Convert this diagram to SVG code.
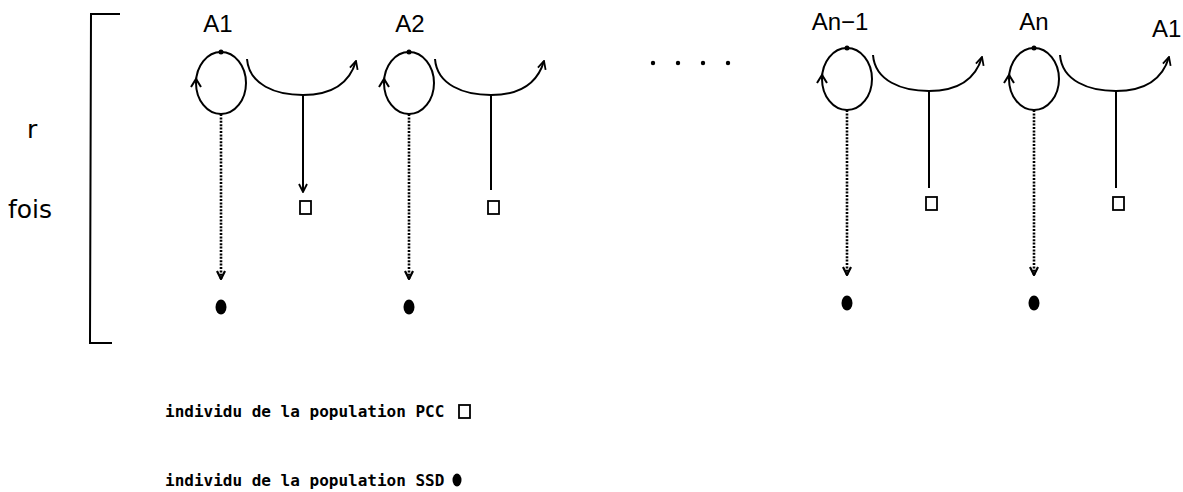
<svg xmlns="http://www.w3.org/2000/svg" width="1183" height="492" viewBox="0 0 1183 492">
  <style>
    .ln { fill: none; stroke: #000; stroke-width: 2; }
    .dot { fill: none; stroke: #000; stroke-width: 2.6; stroke-dasharray: 2 1.4; }
    .lbl { font-family: "Liberation Sans", Arial, sans-serif; font-size: 24px; fill: #000; }
    .side { font-family: "DejaVu Sans", sans-serif; font-size: 25px; fill: #000; }
    .leg { font-family: "DejaVu Sans Mono", "Liberation Mono", monospace; font-size: 16px; font-weight: bold; fill: #000; }
  </style>
  <defs>
    <marker id="v" viewBox="0 0 10 10" refX="9" refY="5" markerWidth="10" markerHeight="10" markerUnits="userSpaceOnUse" orient="auto">
      <path d="M1,1 L9,5 L1,9" fill="none" stroke="#000" stroke-width="1.8"/>
    </marker>
    <marker id="vs" viewBox="0 0 10 10" refX="9" refY="5" markerWidth="10" markerHeight="10" markerUnits="userSpaceOnUse" orient="auto">
      <path d="M1,1 L9,5 L1,9" fill="none" stroke="#000" stroke-width="2.2"/>
    </marker>
    <!-- one stage: self-loop, outgoing arc, PCC individual, dotted branch to SSD -->
    <g id="stage">
      <ellipse cx="0" cy="0" rx="25" ry="31" class="ln"/>
      <circle cx="0" cy="-31" r="2.5" fill="#000"/>
      <path d="M-30,4 L-25,-4 L-20,4" class="ln" stroke-width="1.8"/>
      <path d="M26,-24 C28,2 55,12 82,12 C108,12 128,2 135,-22" class="ln" marker-end="url(#v)"/>
      <path d="M0,31 L0,196" class="dot" marker-end="url(#vs)"/>
      <ellipse cx="0" cy="224" rx="5.5" ry="7.5" fill="#000"/>
      <rect x="79" y="118" width="11" height="13" fill="none" stroke="#000" stroke-width="1.8"/>
    </g>
  </defs>

  <!-- repetition bracket -->
  <g id="bracket">
    <path d="M120,14 L91,14 L90,343 L112,343" class="ln"/>
    <text x="27" y="138" class="side">r</text>
    <text x="8" y="218" class="side">fois</text>
  </g>

  <g id="node-A1">
    <use href="#stage" x="221" y="83"/>
    <text x="218" y="32" class="lbl" text-anchor="middle">A1</text>
  </g>
  <g id="node-A2">
    <use href="#stage" x="409" y="83"/>
    <text x="410" y="32" class="lbl" text-anchor="middle">A2</text>
  </g>
  <g id="node-An-1">
    <use href="#stage" x="847" y="79"/>
    <text x="840" y="30" class="lbl" text-anchor="middle">An−1</text>
  </g>
  <g id="node-An">
    <use href="#stage" x="1034" y="79"/>
    <text x="1034" y="30" class="lbl" text-anchor="middle">An</text>
  </g>
  <g id="node-A1-next">
    <text x="1152" y="37" class="lbl">A1</text>
  </g>

  <!-- connectors: branch from the arc down to the PCC individual -->
  <g id="connectors">
    <path d="M303,95 L303,192" class="ln" marker-end="url(#v)"/>
    <path d="M491,95 L491,190" class="ln"/>
    <path d="M929,91 L929,188" class="ln"/>
    <path d="M1116,91 L1116,188" class="ln"/>
  </g>

  <!-- ellipsis between A2 and An-1 -->
  <g id="ellipsis" fill="#000">
    <circle cx="653" cy="63" r="2.2"/>
    <circle cx="678" cy="63" r="2.2"/>
    <circle cx="703" cy="63" r="2.2"/>
    <circle cx="728" cy="63" r="2.2"/>
  </g>

  <!-- legend -->
  <g id="legend">
    <text x="165" y="417" class="leg">individu de la population PCC</text>
    <rect x="459" y="405" width="11" height="13" fill="none" stroke="#000" stroke-width="1.8"/>
    <text x="165" y="486" class="leg">individu de la population SSD</text>
    <ellipse cx="457" cy="480" rx="4.5" ry="6.5" fill="#000"/>
  </g>
</svg>
